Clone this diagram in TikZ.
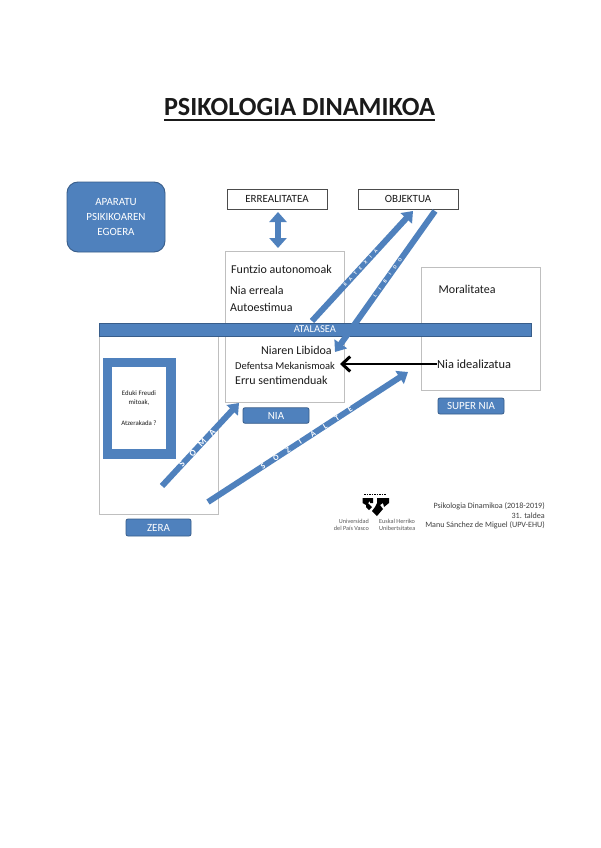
\documentclass[tikz,border=0pt]{standalone}
\usepackage{fontspec}
\setmainfont{Carlito}
\usetikzlibrary{arrows.meta}
\definecolor{ablue}{HTML}{4F81BD}
\definecolor{aedge}{HTML}{385D8A}
\definecolor{agray}{HTML}{BFBFBF}
\definecolor{atext}{HTML}{1A1A1A}
\tikzset{
  panel/.style={draw=agray,line width=1pt,fill=white},
  framebox/.style={draw=black!70,line width=0.8pt,fill=white,align=center,font=\fontsize{11}{12}\selectfont,text=atext,inner sep=0pt},
  tagbox/.style={draw=aedge,line width=0.8pt,fill=ablue,rounded corners=2pt,text=white,font=\fontsize{11}{12}\selectfont,inner sep=0pt},
  label/.style={anchor=west,inner sep=0pt,text=atext,font=\fontsize{12}{13}\selectfont},
  logotext/.style={inner sep=0pt,text=black!65,font=\fontsize{6.2}{6.6}\selectfont,align=center},
  credit/.style={anchor=east,inner sep=0pt,text=black!75,font=\fontsize{8.1}{8.5}\selectfont},
  bluearrow/.style={draw=ablue,line width=6pt,-{Triangle[length=10pt,width=15pt]}},
  bothway/.style={draw=ablue,line width=6pt,{Triangle[length=10pt,width=17pt]}-{Triangle[length=10pt,width=17pt]}},
  blackarrow/.style={draw=black,line width=2.6pt,-{Straight Barb[length=8pt,width=15pt,line width=3pt]}},
  arrowletter/.style={sloped,inner sep=0pt,text=white,font=\fontsize{#1}{#1}\selectfont\bfseries},
  arrowletter/.default=7
}
\begin{document}
\begin{tikzpicture}[x=1pt,y=-1pt]
\useasboundingbox (0,0) rectangle (600,848);
\fill[white] (0,0) rectangle (600,848);

\node[inner sep=0pt,font=\fontsize{26.2}{27}\selectfont\bfseries,text=atext] (title) at (299.5,107) {PSIKOLOGIA DINAMIKOA};
\draw[line width=1.3pt,draw=atext] (164,120) coordinate (ula) -- (435,120) coordinate (ulb);

% panels
\draw[panel] (99,330) rectangle (218,514);
\draw[panel] (225,251) rectangle (344,402);
\draw[panel] (421,267) rectangle (540,390);

\node[draw=aedge,line width=0.9pt,fill=ablue,rounded corners=11pt,minimum width=98pt,minimum height=70pt,inner sep=0pt,text=white,align=center,font=\fontsize{11}{14.6}\selectfont] (aparatu) at (116,217) {APARATU\\PSIKIKOAREN\\EGOERA};

\node[framebox,minimum width=100pt,minimum height=20pt] (erre) at (277,199) {ERREALITATEA};
\node[framebox,minimum width=100pt,minimum height=20pt] (objek) at (408,199) {OBJEKTUA};

\coordinate (bta) at (278,212);
\coordinate (btb) at (278,248);
\draw[bothway] (bta) -- (btb);

\node[label] (funtzio) at (231,269) {Funtzio autonomoak};
\node[label] (erreala) at (230,290) {Nia erreala};
\node[label] (autoest) at (230,307) {Autoestimua};
\node[label] (moral) at (438.5,289) {Moralitatea};

% Arrow that passes behind the bar
\coordinate (a1s) at (312,321);
\coordinate (a1e) at (413,211);
\draw[bluearrow] (a1s) -- (a1e);

% threshold bar
\node[draw=aedge,line width=0.6pt,fill=ablue,minimum width=432pt,minimum height=13pt,inner sep=0pt,text=white,font=\fontsize{10.5}{11}\selectfont] (atalasea) at (315,329.5) {ATALASEA};

\node[label] (libido) at (261,350) {Niaren Libidoa};
\node[label,font=\fontsize{10.5}{12}\selectfont] (defentsa) at (235,366) {Defentsa Mekanismoak};
\node[label,font=\fontsize{12}{13}\selectfont] (erru) at (235,380) {Erru sentimenduak};
\node[label,font=\fontsize{12.4}{13}\selectfont] (ideal) at (437,364) {Nia idealizatua};

\coordinate (bke) at (340,364);
\draw[blackarrow] (ideal.west) -- (bke);

% Freud frame
\draw[draw=ablue,fill=ablue] (103,358) rectangle (175,458);
\fill[white] (112,367) rectangle (166,449);
\node[inner sep=0pt,text=atext,align=center,font=\fontsize{6.8}{7}\selectfont] (eduki1) at (139,393) {Eduki Freudi};
\node[inner sep=0pt,text=atext,align=center,font=\fontsize{6.8}{7}\selectfont] (eduki2) at (139,403) {mitoak,};
\node[inner sep=0pt,text=atext,align=center,font=\fontsize{6.8}{7}\selectfont] (eduki3) at (139,423) {Atzerakada ?};

\node[tagbox,minimum width=65pt,minimum height=17pt] (zera) at (158.5,527.5) {ZERA};
\node[tagbox,minimum width=66pt,minimum height=15.5pt] (nia) at (276,415.5) {NIA};
\node[tagbox,minimum width=66pt,minimum height=16pt] (super) at (471,406) {SUPER NIA};

% blue arrows
\coordinate (a2s) at (435,211);
\coordinate (a2e) at (335,352);
\draw[bluearrow] (a2s) -- (a2e);
\coordinate (a3s) at (162,486);
\coordinate (a3e) at (239,403);
\draw[bluearrow] (a3s) -- (a3e);
\coordinate (a4s) at (208,502);
\coordinate (a4e) at (408,372);
\draw[bluearrow] (a4s) -- (a4e);

% letters on arrows
\path (a3s) -- (a3e)
  node[arrowletter=9,pos=.26,name=s1] {S}
  node[arrowletter=9,pos=.40,name=s2] {O}
  node[arrowletter=9,pos=.52,name=s3] {M}
  node[arrowletter=9,pos=.65,name=s4] {A};
\path (a4s) -- (a4e)
  node[arrowletter=8,pos=.275,name=z1] {S}
  node[arrowletter=8,pos=.34,name=z2] {O}
  node[arrowletter=8,pos=.40,name=z3] {Z}
  node[arrowletter=8,pos=.46,name=z4] {I}
  node[arrowletter=8,pos=.525,name=z5] {A}
  node[arrowletter=8,pos=.585,name=z6] {L}
  node[arrowletter=8,pos=.645,name=z7] {T}
  node[arrowletter=8,pos=.71,name=z8] {E};
\path (a1s) -- (a1e)
  node[arrowletter=5,pos=.33,name=k1] {K}
  node[arrowletter=5,pos=.38,name=k2] {A}
  node[arrowletter=5,pos=.43,name=k3] {T}
  node[arrowletter=5,pos=.48,name=k4] {E}
  node[arrowletter=5,pos=.53,name=k5] {X}
  node[arrowletter=5,pos=.58,name=k6] {I}
  node[arrowletter=5,pos=.63,name=k7] {A};
\path (a2s) -- (a2e)
  node[arrowletter=5,pos=.60,name=l1] {L}
  node[arrowletter=5,pos=.55,name=l2] {I}
  node[arrowletter=5,pos=.50,name=l3] {B}
  node[arrowletter=5,pos=.45,name=l4] {I}
  node[arrowletter=5,pos=.40,name=l5] {D}
  node[arrowletter=5,pos=.35,name=l6] {O};

% university shield
\fill[black] (362.5,498) -- (373,498) -- (373,503) -- (370,503) -- (370,501) -- (368,503) -- (372,507) -- (369,510) -- (366,507) -- (366,505) -- (362.5,503) -- cycle;
\fill[black] (377,498) -- (389,498) -- (389,503) -- (384,507) -- (383,503) -- (380,505) -- (383,509) -- (377,516) -- (372,511) -- (375,507) -- (377,503) -- cycle;
\draw[black,line width=0.5pt,dash pattern=on 1.5pt off 1pt] (364,494.5) -- (386,494.5);

\node[logotext,anchor=east,align=right] (lbl1) at (369,525) {Universidad\\del País Vasco};
\node[logotext,anchor=west,align=left] (lbl2) at (379,525) {Euskal Herriko\\Unibertsitatea};

\node[credit] (c1) at (545,506) {Psikologia Dinamikoa (2018-2019)};
\node[credit] (c2) at (545,515.5) {31. taldea};
\node[credit] (c3) at (545,525) {Manu Sánchez de Miguel (UPV-EHU)};
\end{tikzpicture}
\end{document}
